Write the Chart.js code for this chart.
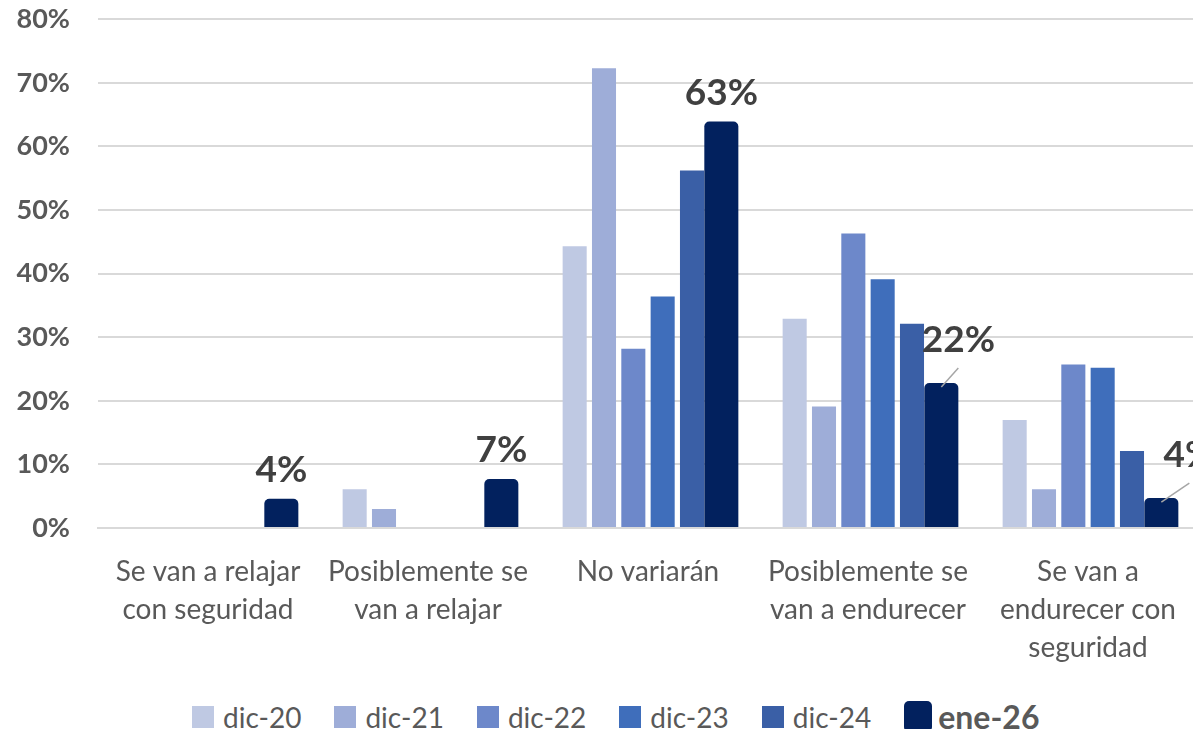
<!DOCTYPE html>
<html lang="es">
<head>
  <meta charset="UTF-8">
  <title>Condiciones de crédito</title>
  <script src="https://cdn.jsdelivr.net/npm/chart.js"></script>
  <style>
    html, body { margin: 0; padding: 0; background: #fff; overflow: hidden; }
    .wrap { position: relative; width: 1193px; height: 729px; overflow: hidden; }
    #chart { position: absolute; left: 0; top: -25px; }
    #legend {
      position: absolute; left: 192px; top: 697px;
      display: flex; align-items: center;
      font-family: Lato, sans-serif; color: #595959;
    }
    .item { display: flex; align-items: center; margin-right: 33px; font-size: 28px; }
    .box { width: 22px; height: 22px; margin-right: 9px; }
    .item.main { font-weight: bold; font-size: 32px; }
    .item.main .box { width: 28px; height: 31px; border-radius: 5px; margin-right: 6px; }
  </style>
</head>
<body>
  <div class="wrap">
    <canvas id="chart" width="1198" height="715"></canvas>
    <div id="legend"></div>
  </div>

  <script>
    const categories = [
      ['Se van a relajar', 'con seguridad'],
      ['Posiblemente se', 'van a relajar'],
      'No variarán',
      ['Posiblemente se', 'van a endurecer'],
      ['Se van a', 'endurecer con', 'seguridad']
    ];
    const seriesNames = ['dic-20', 'dic-21', 'dic-22', 'dic-23', 'dic-24', 'ene-26'];
    const dic20 = [0, 6.1, 44.3, 32.9, 17.0];
    const dic21 = [0, 3.0, 72.3, 19.1, 6.1];
    const dic22 = [0, 0, 28.2, 46.3, 25.7];
    const dic23 = [0, 0, 36.4, 39.1, 25.2];
    const dic24 = [0, 0, 56.2, 32.1, 12.1];
    const ene26 = [4.6, 7.7, 63.9, 22.8, 4.7];
    const yTicks = [0, 10, 20, 30, 40, 50, 60, 70, 80];

    const colors = ['#bfc9e3', '#9eadd8', '#6d88ca', '#3f6ebb', '#3a5fa6', '#02215e'];
    const allValues = [dic20, dic21, dic22, dic23, dic24, ene26];

    // labels only for the last series; some get a leader line
    const labelPlugin = {
      id: 'lastLabels',
      afterDatasetsDraw(chart) {
        const ctx = chart.ctx;
        const meta = chart.getDatasetMeta(5);
        const shiftX = [0, 0, 0, 17, 28];
        ctx.save();
        ctx.font = 'bold 37px Lato, sans-serif';
        ctx.fillStyle = '#404040';
        ctx.textAlign = 'center';
        ctx.textBaseline = 'alphabetic';
        meta.data.forEach((bar, i) => {
          const dx = shiftX[i];
          const text = Math.floor(ene26[i]) + '%';
          if (dx) {
            ctx.strokeStyle = '#a6a6a6';
            ctx.lineWidth = 1.5;
            ctx.beginPath();
            ctx.moveTo(bar.x, bar.y + 4);
            ctx.lineTo(bar.x + dx, bar.y - 15);
            ctx.stroke();
            ctx.fillText(text, bar.x + dx, bar.y - 31);
          } else {
            ctx.fillText(text, bar.x, bar.y - 17);
          }
        });
        ctx.restore();
      }
    };

    const datasets = seriesNames.map((name, i) => ({
      label: name,
      data: allValues[i],
      backgroundColor: colors[i],
      barPercentage: i === 5 ? 1.16 : 0.82,
      categoryPercentage: 0.8,
      borderRadius: i === 5 ? 5 : 0,
      borderSkipped: 'bottom'
    }));

    new Chart(document.getElementById('chart'), {
      type: 'bar',
      data: { labels: categories, datasets: datasets },
      options: {
        responsive: false,
        animation: false,
        layout: { padding: 0 },
        plugins: {
          legend: { display: false },
          tooltip: { enabled: false }
        },
        scales: {
          x: {
            grid: { display: false },
            border: { display: true, color: '#d9d9d9', width: 2 },
            ticks: {
              color: '#595959',
              font: { family: 'Lato, sans-serif', size: 28, lineHeight: 1.36 },
              padding: 17,
              maxRotation: 0,
              autoSkip: false
            },
            afterFit(scale) { scale.height = 162; }
          },
          y: {
            min: 0,
            max: 80,
            afterBuildTicks(scale) { scale.ticks = yTicks.map(v => ({ value: v })); },
            grid: { color: '#d9d9d9', lineWidth: 2, drawTicks: false },
            border: { display: false },
            ticks: {
              color: '#595959',
              font: { family: 'Lato, sans-serif', size: 27, weight: 'bold' },
              padding: 28,
              callback: v => v + '%'
            },
            afterFit(scale) { scale.width = 98; }
          }
        }
      },
      plugins: [labelPlugin]
    });

    // html legend, last series in bold with a bigger rounded key
    const legend = document.getElementById('legend');
    seriesNames.forEach((name, i) => {
      const item = document.createElement('div');
      item.className = 'item' + (i === 5 ? ' main' : '');
      const box = document.createElement('span');
      box.className = 'box';
      box.style.background = colors[i];
      item.appendChild(box);
      item.appendChild(document.createTextNode(name));
      legend.appendChild(item);
    });
  </script>
</body>
</html>
